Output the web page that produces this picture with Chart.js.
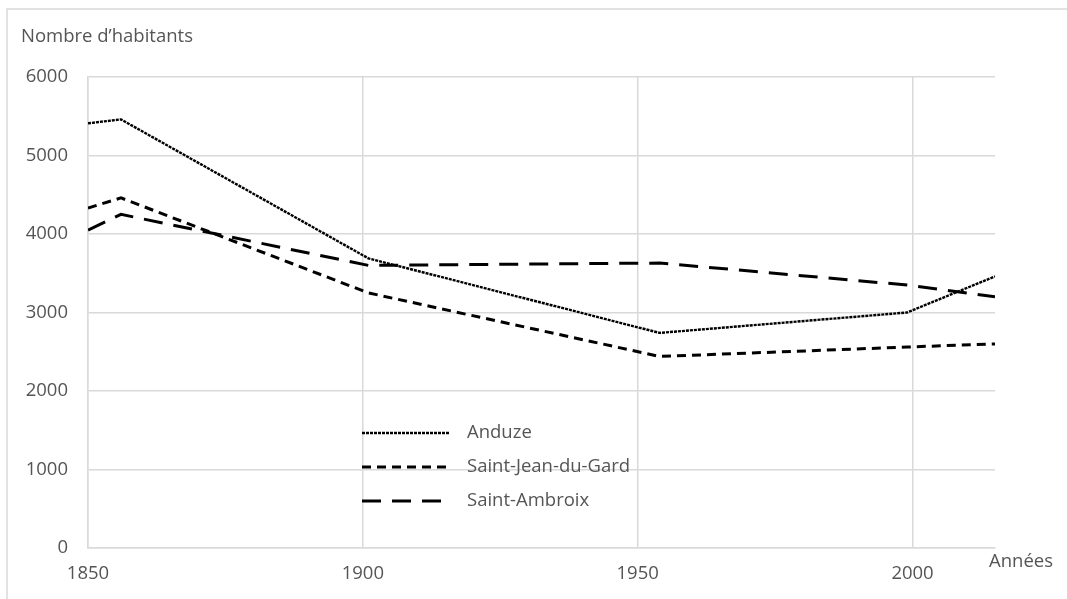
<!DOCTYPE html>
<html lang="fr">
<head>
<meta charset="utf-8">
<title>Nombre d'habitants</title>
<script src="https://cdn.jsdelivr.net/npm/chart.js@4/dist/chart.umd.min.js"></script>
<style>
  html, body { margin: 0; padding: 0; background: #fff; }
  #graph { display: block; }
</style>
</head>
<body>
<canvas id="graph" width="1067" height="599"></canvas>
<script>
// années des recensements
const years = [1850, 1856, 1901, 1954, 1999, 2015];

// population par commune
const anduze = [5410, 5460, 3690, 2740, 3000, 3460];
const saintJean = [4330, 4460, 3250, 2440, 2560, 2600];
const saintAmbroix = [4050, 4250, 3600, 3630, 3350, 3200];

const labels = ['Anduze', 'Saint-Jean-du-Gard', 'Saint-Ambroix'];
const yTitle = 'Nombre d\u2019habitants';
const xTitle = 'Années';

const FONT = '"Open Sans", "Liberation Sans", sans-serif';
const TXT = '#555';
const GRID = '#d9d9d9';

function points(values) {
  return values.map((v, i) => ({x: years[i], y: v}));
}

function serie(label, values, dash, width) {
  return {
    label: label,
    data: points(values),
    borderColor: '#000',
    borderWidth: width,
    borderDash: dash,
    borderCapStyle: 'butt',
    pointRadius: 0,
    tension: 0,
    fill: false
  };
}

// cadre, titres et légende dessinés à la main (comme dans Excel)
const decor = {
  id: 'decor',
  beforeDraw(chart) {
    const ctx = chart.ctx;
    ctx.save();
    ctx.fillStyle = '#fff';
    ctx.fillRect(0, 0, chart.width, chart.height);
    ctx.strokeStyle = GRID;
    ctx.lineWidth = 1.5;
    ctx.strokeRect(7, 9, chart.width + 20, chart.height + 20);
    ctx.restore();
  },
  afterDraw(chart) {
    const ctx = chart.ctx;
    const area = chart.chartArea;
    ctx.save();
    ctx.font = '18.5px ' + FONT;
    ctx.fillStyle = TXT;
    ctx.textBaseline = 'middle';
    ctx.textAlign = 'left';
    ctx.fillText(yTitle, 21, 37);
    ctx.fillText(xTitle, area.right - 6, area.bottom + 14);

    // légende
    chart.data.datasets.forEach((ds, i) => {
      const y = area.top + 356 + i * 34;
      const x0 = area.left + 274;
      ctx.beginPath();
      ctx.strokeStyle = ds.borderColor;
      ctx.lineWidth = ds.borderWidth;
      ctx.setLineDash(ds.borderDash);
      ctx.moveTo(x0, y);
      ctx.lineTo(x0 + 88, y);
      ctx.stroke();
      ctx.setLineDash([]);
      ctx.fillStyle = TXT;
      ctx.fillText(ds.label, x0 + 105, y);
    });
    ctx.restore();
  }
};

const ctx_graph = document.getElementById('graph');

new Chart(ctx_graph, {
  type: 'line',
  data: {
    datasets: [
      serie(labels[0], anduze, [3, 1], 2.4),
      serie(labels[1], saintJean, [9, 6], 3),
      serie(labels[2], saintAmbroix, [19, 11], 3)
    ]
  },
  options: {
    responsive: false,
    animation: false,
    devicePixelRatio: 1,
    layout: { padding: { top: 77, right: 72, left: 0, bottom: 0 } },
    plugins: {
      legend: { display: false },
      title: { display: false },
      tooltip: { enabled: false }
    },
    scales: {
      x: {
        type: 'linear',
        min: 1850,
        max: 2015,
        grid: { color: GRID, lineWidth: 1.5, drawTicks: false },
        border: { color: GRID, width: 1.5 },
        ticks: {
          stepSize: 50,
          includeBounds: false,
          maxRotation: 0,
          padding: 15,
          color: TXT,
          font: { family: FONT, size: 18.5 },
          callback: (v) => String(v)
        },
        afterFit: (scale) => { scale.height = 51; }
      },
      y: {
        min: 0,
        max: 6000,
        grid: { color: GRID, lineWidth: 1.5, drawTicks: false },
        border: { color: GRID, width: 1.5 },
        ticks: {
          stepSize: 1000,
          padding: 20,
          color: TXT,
          font: { family: FONT, size: 18.5 },
          callback: (v) => String(v)
        },
        afterFit: (scale) => { scale.width = 88; }
      }
    }
  },
  plugins: [decor]
});
</script>
</body>
</html>
